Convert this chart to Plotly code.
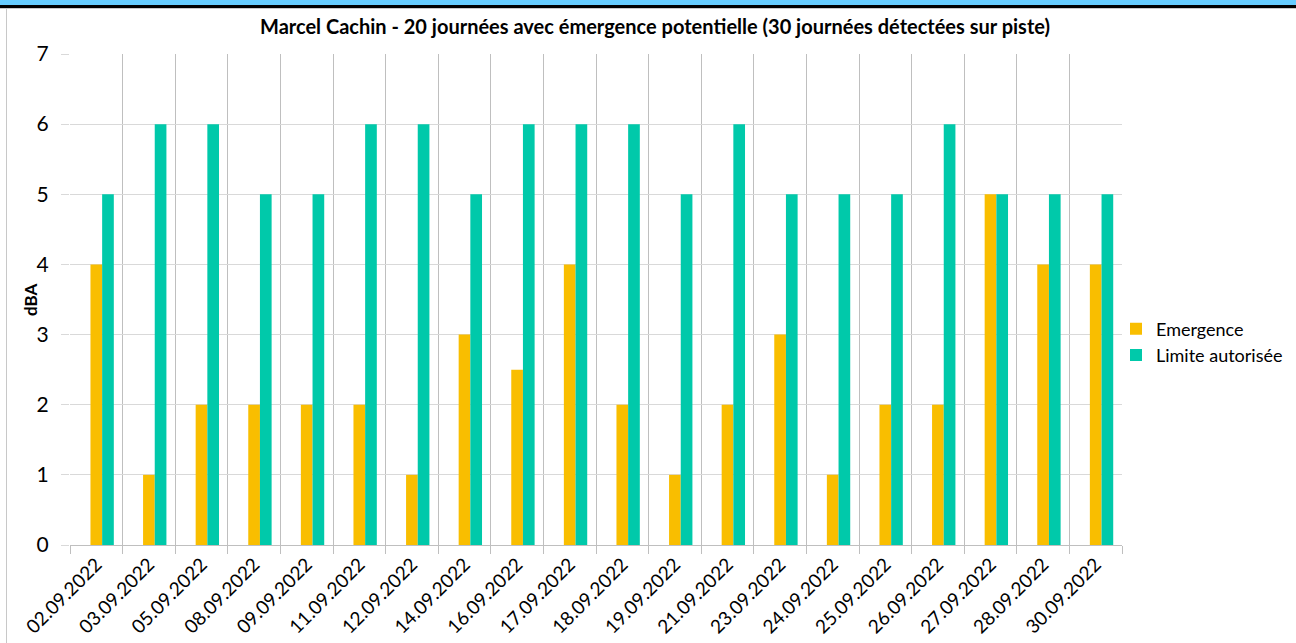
import plotly.graph_objects as go

dates = ["02.09.2022", "03.09.2022", "05.09.2022", "08.09.2022", "09.09.2022",
         "11.09.2022", "12.09.2022", "14.09.2022", "16.09.2022", "17.09.2022",
         "18.09.2022", "19.09.2022", "21.09.2022", "23.09.2022", "24.09.2022",
         "25.09.2022", "26.09.2022", "27.09.2022", "28.09.2022", "30.09.2022"]
emergence = [4, 1, 2, 2, 2, 2, 1, 3, 2.5, 4, 2, 1, 2, 3, 1, 2, 2, 5, 4, 4]
limite = [5, 6, 6, 5, 5, 6, 6, 5, 6, 6, 6, 5, 6, 5, 5, 5, 6, 5, 5, 5]

FONT = "Lato"
W, H = 1296, 643
L, R, T, B = 70, 174, 54, 98
pw, ph = W - L - R, H - T - B

fig = go.Figure()
fig.add_trace(go.Bar(x=dates, y=emergence, name="Emergence",
                     marker=dict(color="#F9BE00", line=dict(width=0)),
                     width=0.222, offset=-0.111))
fig.add_trace(go.Bar(x=dates, y=limite, name="Limite autorisée",
                     marker=dict(color="#00C9AA", line=dict(width=0)),
                     width=0.222, offset=0.111))


def px(x):
    return (x - L) / pw


def py(y):
    return (H - B - y) / ph


shapes = [
    dict(type="rect", xref="paper", yref="paper", x0=px(0), x1=px(W), y0=py(0), y1=py(5),
         fillcolor="#66CCFF", line=dict(width=0), layer="above"),
    dict(type="rect", xref="paper", yref="paper", x0=px(0), x1=px(W), y0=py(5), y1=py(8),
         fillcolor="#000000", line=dict(width=0), layer="above"),
    dict(type="line", xref="paper", yref="paper", x0=px(0), x1=px(W), y0=py(8.5), y1=py(8.5),
         line=dict(color="#C8C8C8", width=1)),
    dict(type="line", xref="paper", yref="paper", x0=px(6.5), x1=px(6.5), y0=py(8), y1=py(H),
         line=dict(color="#C8C8C8", width=1)),
]

title_text = "Marcel Cachin - 20 journées avec émergence poten\u200ctielle (30 journées détectées sur piste)"

fig.update_layout(
    width=W, height=H,
    margin=dict(l=L, r=R, t=T, b=B, autoexpand=False),
    paper_bgcolor="white", plot_bgcolor="white",
    title=dict(text="<b>" + title_text + "</b>",
               x=655 / W, xanchor="center", y=1 - 27 / H, yanchor="middle",
               font=dict(family=FONT, size=20, color="#000000")),
    font=dict(family=FONT, color="#000000"),
    legend=dict(x=px(1116), xanchor="left", y=py(342), yanchor="middle",
                font=dict(family=FONT, size=18, color="#000000"),
                itemwidth=30, tracegroupgap=4, bgcolor="rgba(0,0,0,0)"),
    shapes=shapes,
    annotations=[dict(text="<b>dBA</b>", xref="paper", yref="paper", x=px(30), y=py(300),
                      xanchor="center", yanchor="middle", textangle=-90, showarrow=False,
                      font=dict(family=FONT, size=17, color="#000000"))],
)
fig.update_xaxes(type="category", tickson="boundaries", ticks="outside", ticklen=8,
                 tickcolor="#BFBFBF", showgrid=True, gridcolor="#BFBFBF", gridwidth=1,
                 showline=True, linecolor="#BFBFBF", linewidth=1,
                 tickangle=-45, tickfont=dict(family=FONT, size=19, color="#000000"))
fig.update_yaxes(range=[0, 7], dtick=1, tick0=0, showgrid=True, gridcolor="#D9D9D9",
                 gridwidth=1, zeroline=False, ticks="outside", ticklen=8, tickcolor="#D9D9D9",
                 showline=False, ticklabelstandoff=8,
                 tickfont=dict(family=FONT, size=21, color="#000000"))

fig.write_html("out.html", config={"displayModeBar": False},
               post_script="document.body.style.margin='0';document.body.style.padding='0';")
